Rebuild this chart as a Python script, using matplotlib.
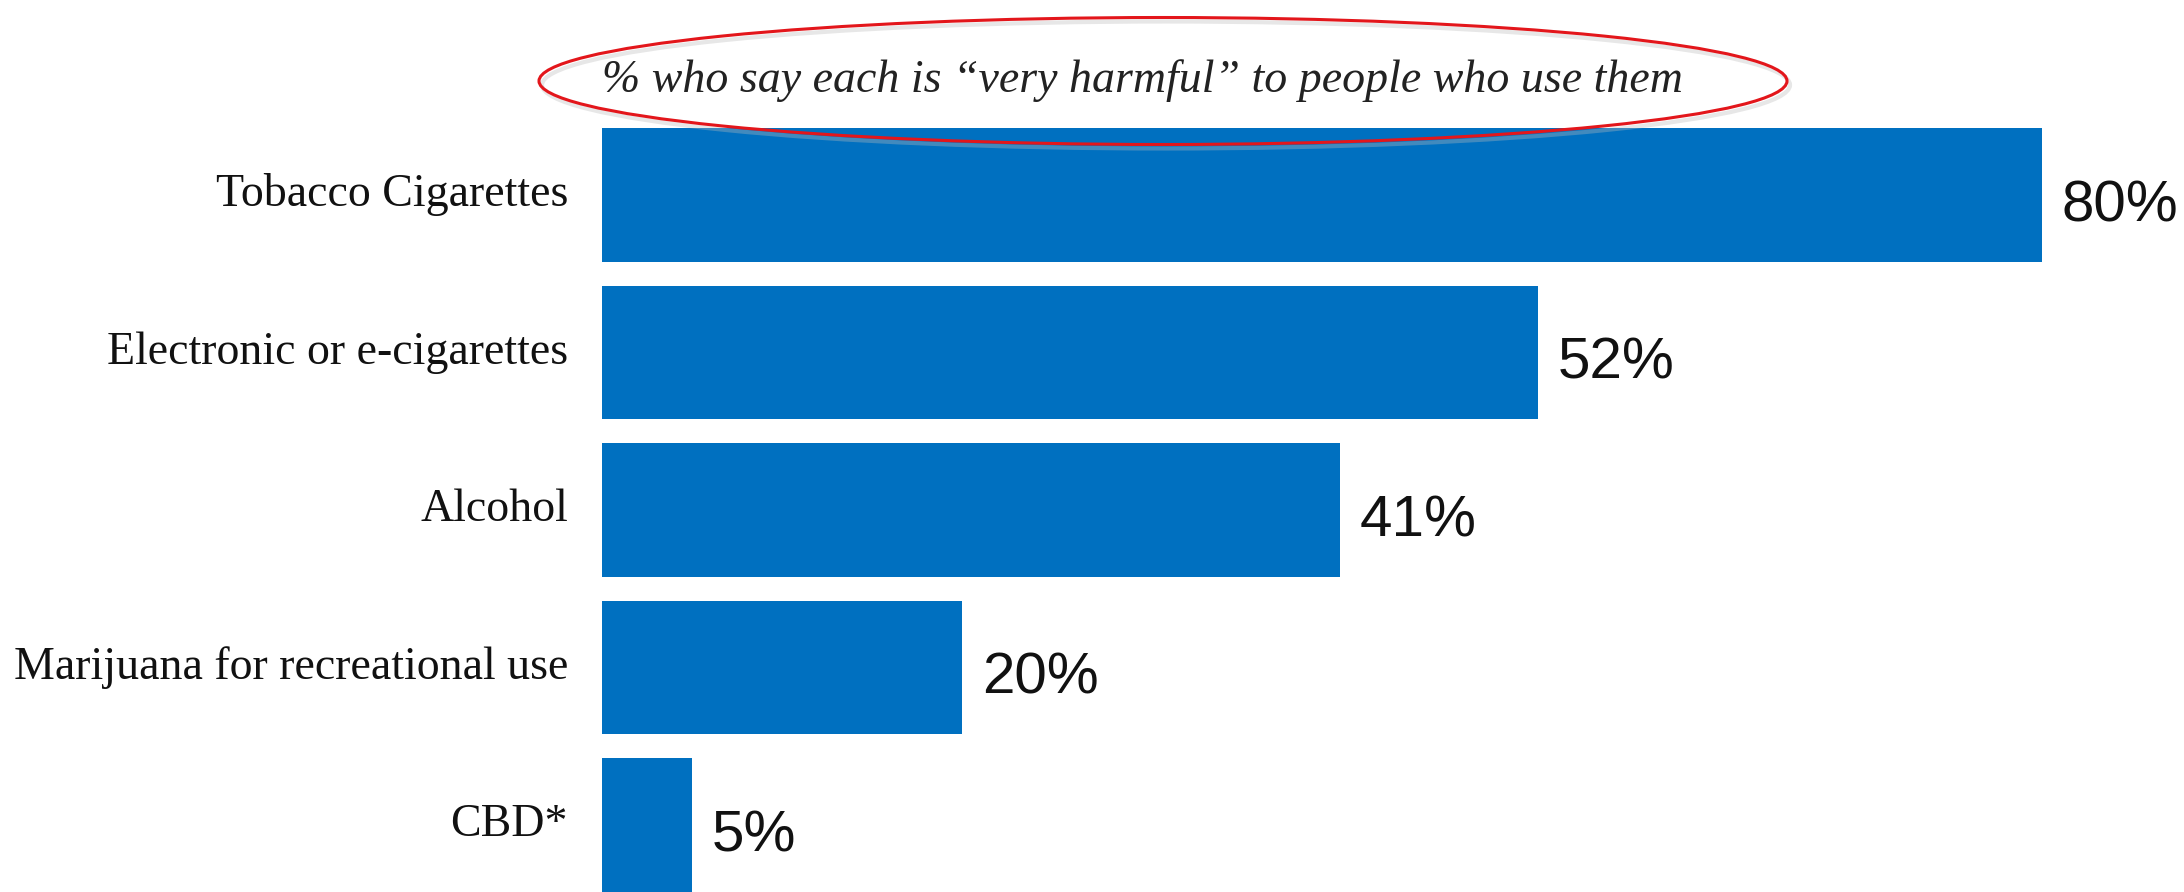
import matplotlib
matplotlib.use("Agg")
import matplotlib.pyplot as plt
from matplotlib.patches import Ellipse

# Survey data: % who say each is "very harmful" to people who use them
categories = ["Tobacco Cigarettes", "Electronic or e-cigarettes", "Alcohol",
              "Marijuana for recreational use", "CBD*"]
values = [80, 52, 41, 20, 5]
value_labels = ["80%", "52%", "41%", "20%", "5%"]
subtitle = "% who say each is \u201cvery harmful\u201d to people who use them"

BAR_COLOR = "#0070C0"
W, H = 2184, 892

fig = plt.figure(figsize=(W / 100, H / 100), dpi=100)
fig.patch.set_facecolor("white")

# axes starts where the bars start and runs to the right edge
left_px = 602
ax = fig.add_axes([left_px / W, 0, (W - left_px) / W, 1])
px_per_unit = 18.0
ax.set_xlim(0, (W - left_px) / px_per_unit)

pitch, first_center = 157.5, 195
ax.set_ylim((H - first_center) / pitch, -first_center / pitch)

ypos = list(range(len(categories)))
ax.barh(ypos, values, height=0.845, color=BAR_COLOR)

for y, v, lab in zip(ypos, values, value_labels):
    ax.text(v + 1.1, y + 0.07, lab, va="center", ha="left",
            fontsize=42, family="Liberation Sans", color="#111111")

for y, cat in zip(ypos, categories):
    ax.text(-34 / px_per_unit, y, cat, va="center", ha="right",
            fontsize=33, family="Liberation Serif", color="#111111",
            clip_on=False)

ax.axis("off")

# subtitle with the red ellipse round it
fig.text(left_px / W, 1 - 81 / H, subtitle, ha="left", va="center",
         fontsize=33, family="Liberation Serif", style="italic",
         color="#222222")

shadow = Ellipse((1166 / W, 1 - 85 / H), 1248 / W, 127 / H,
                 transform=fig.transFigure, fill=False,
                 edgecolor="#bbbbbb", lw=3, alpha=0.35)
ring = Ellipse((1163 / W, 1 - 81 / H), 1248 / W, 127 / H,
               transform=fig.transFigure, fill=False,
               edgecolor="#e3161b", lw=2.2)
fig.patches.extend([shadow, ring])

fig.savefig("out.png", dpi=100, facecolor="white")
